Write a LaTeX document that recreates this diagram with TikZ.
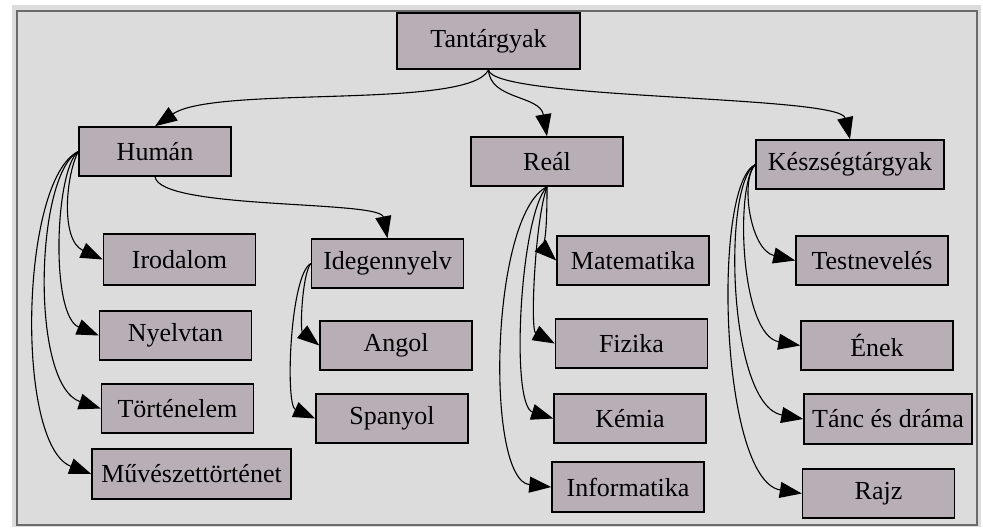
\documentclass[tikz,border=0pt]{standalone}
\usepackage{fontspec}
\setmainfont{Liberation Serif}
\usetikzlibrary{arrows.meta}
\definecolor{boxfill}{HTML}{B8AFB6}
\definecolor{bgcol}{HTML}{DCDCDC}
\definecolor{framecol}{HTML}{6A6A6A}
\tikzset{
  box/.style={draw=black, line width=0.75pt, fill=boxfill, rectangle, inner sep=0pt,
    minimum width=76pt, minimum height=24.5pt, font=\fontsize{13}{15}\selectfont},
  edge/.style={draw=black, line width=0.55pt, -{Triangle[length=11pt,width=8pt]}},
}
\begin{document}
\begin{tikzpicture}[x=0.5pt,y=-0.5pt]
\useasboundingbox (0,0) rectangle (983,527);
\fill[white] (0,0) rectangle (983,527);
\fill[bgcol] (12,5) rectangle (981,527);
\draw[framecol, line width=1pt] (16.5,10.5) rectangle (977,525);

\node[box, minimum width=91.5pt, minimum height=28pt] (tant) at (488.5,41) {Tantárgyak};
\node[box] (human) at (155,151.5) {Humán};
\node[box] (real) at (547,161.5) {Reál};
\node[box, minimum width=94pt] (kesz) at (850,164.5) {Készségtárgyak};

\node[box, minimum height=25.5pt] (irod) at (179.5,259.5) {Irodalom};
\node[box] (nyelv) at (175.5,335.5) {Nyelvtan};
\node[box] (tort) at (177.5,408.5) {Történelem};
\node[box, minimum width=99.5pt, minimum height=25pt] (muv) at (191.5,474) {Művészettörténet};

\node[box] (ideg) at (387.5,263.5) {Idegennyelv};
\node[box] (angol) at (396,345.5) {Angol};
\node[box] (span) at (392,418.5) {Spanyol};

\node[box] (mat) at (633,260.5) {Matematika};
\node[box] (fiz) at (631.5,343.5) {Fizika};
\node[box] (kem) at (630,418.5) {Kémia};
\node[box, minimum height=25pt] (inf) at (628,487) {Informatika};

\node[box] (test) at (872,260.5) {Testnevelés};
\node[box] (enek) at (877,345.5) {Ének};
\node[box, minimum width=84pt, minimum height=25pt] (tanc) at (888,419) {Tánc és dráma};
\node[box] (rajz) at (878.5,493.5) {Rajz};

% Tantárgyak
\draw[edge] (tant.south) .. controls (470,110) and (215,85) .. (human.north);
\draw[edge] (tant.south) .. controls (490,100) and (540,95) .. (real.north);
\draw[edge] (tant.south) .. controls (492,100) and (840,95) .. (kesz.north);

% Humán
\draw[edge] (human.south) .. controls (160,210) and (380,200) .. (ideg.north);
\draw[edge] (human.west) .. controls (66,175) and (60,240) .. (irod.west);
\draw[edge] (human.west) .. controls (55,170) and (50,315) .. (nyelv.west);
\draw[edge] (human.west) .. controls (35,175) and (30,385) .. (tort.west);
\draw[edge] (human.west) .. controls (20,180) and (15,445) .. (muv.west);

% Idegennyelv
\draw[edge] (ideg.west) .. controls (302,275) and (300,330) .. (angol.west);
\draw[edge] (ideg.west) .. controls (290,275) and (285,405) .. (span.west);

% Reál
\draw[edge] (real.south) .. controls (547,230) and (545,250) .. (mat.west);
\draw[edge] (real.south) .. controls (535,220) and (530,330) .. (fiz.west);
\draw[edge] (real.south) .. controls (520,215) and (510,405) .. (kem.west);
\draw[edge] (real.south) .. controls (490,215) and (485,480) .. (inf.west);

% Készségtárgyak
\draw[edge] (kesz.west) .. controls (740,180) and (750,250) .. (test.west);
\draw[edge] (kesz.west) .. controls (735,185) and (740,335) .. (enek.west);
\draw[edge] (kesz.west) .. controls (722,185) and (728,405) .. (tanc.west);
\draw[edge] (kesz.west) .. controls (712,185) and (720,480) .. (rajz.west);
\end{tikzpicture}
\end{document}
